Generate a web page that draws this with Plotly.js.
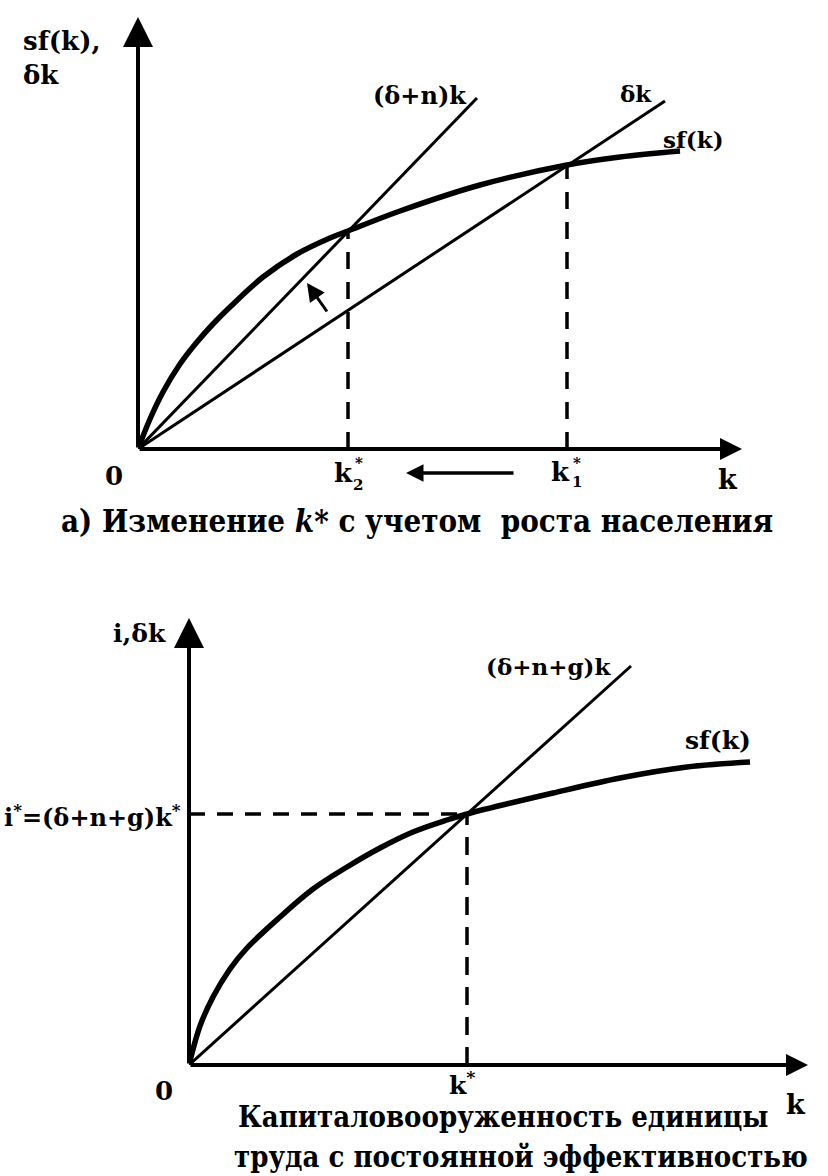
<!DOCTYPE html>
<html>
<head>
<meta charset="utf-8">
<script src="https://cdn.plot.ly/plotly-3.0.1.min.js"></script>
<style>
  html, body { margin: 0; padding: 0; background: #fff; }
  #chart { width: 828px; height: 1176px; }
</style>
</head>
<body>
<div id="chart"></div>
<script>
// ---- Panel (a): Solow model with population growth ----
const kTop  = [0, 0.12, 0.25, 0.42, 0.59, 0.75, 0.92, 1.25, 1.59, 1.92, 2.10, 2.62, 3.42, 4.29, 4.82, 5.42];
const sfTop = [0, 0.30, 0.57, 0.85, 1.07, 1.25, 1.42, 1.72, 1.95, 2.11, 2.18, 2.38, 2.64, 2.84, 2.92, 2.98];
const kDeltaN  = [0, 3.39];   // (δ+n)k
const yDeltaN  = [0, 3.51];
const kDelta   = [0, 5.27];   // δk
const yDelta   = [0, 3.48];
const k2Star = 2.10, sfK2 = 2.18;
const k1Star = 4.29, sfK1 = 2.84;

// ---- Panel (b): steady state with technological progress ----
const kBot  = [0, 0.11, 0.24, 0.41, 0.58, 0.91, 1.24, 1.58, 1.91, 2.24, 2.58, 2.78, 3.64, 4.31, 4.98, 5.61];
const sfBot = [0, 0.39, 0.68, 0.96, 1.17, 1.48, 1.76, 1.98, 2.17, 2.33, 2.45, 2.51, 2.72, 2.87, 2.98, 3.03];
const kDNG = [0, 4.42];       // (δ+n+g)k
const yDNG = [0, 3.99];
const kStar = 2.78, iStar = 2.51;

// text labels
const labelsTop = {
  yTitle: 'sf(k),<br>δk', dn: '(δ+n)k', d: 'δk', sf: 'sf(k)', zero: '0', k: 'k',
  caption: 'а) Изменение <i>k*</i> с учетом  роста населения'
};
const labelsBot = {
  yTitle: 'i,δk', iStar: 'i<sup>*</sup>=(δ+n+g)k<sup>*</sup>', dng: '(δ+n+g)k', sf: 'sf(k)',
  zero: '0', kStar: 'k<sup>*</sup>', k: 'k',
  caption1: 'Капиталовооруженность единицы', caption2: 'труда с постоянной эффективностью'
};

const W = 828, H = 1176;
const px = x => x / W;
const py = y => 1 - y / H;

const SERIF = 'DejaVu Serif, Liberation Serif, serif';
const CAP = 'DejaVu Serif Condensed, DejaVu Serif, serif';
const BLACK = '#000';

function line(x, y, axes, width, dash) {
  return {
    x, y, xaxis: axes[0], yaxis: axes[1], type: 'scatter', mode: 'lines',
    line: { color: BLACK, width, dash: dash || 'solid' }, hoverinfo: 'skip', cliponaxis: false
  };
}
function curve(x, y, axes, width) {
  return {
    x, y, xaxis: axes[0], yaxis: axes[1], type: 'scatter', mode: 'lines',
    line: { color: BLACK, width, shape: 'spline', smoothing: 1 }, hoverinfo: 'skip', cliponaxis: false
  };
}

const A = ['x', 'y'], B = ['x2', 'y2'];
const traces = [
  curve(kTop, sfTop, A, 5.5),
  line(kDeltaN, yDeltaN, A, 3),
  line(kDelta, yDelta, A, 3),
  line([k2Star, k2Star], [0, sfK2], A, 3.5, '17px,13px'),
  line([k1Star, k1Star], [0, sfK1], A, 3.5, '17px,13px'),

  curve(kBot, sfBot, B, 5.5),
  line(kDNG, yDNG, B, 3),
  line([0, kStar], [iStar, iStar], B, 3.5, '16px,12px'),
  line([kStar, kStar], [0, iStar], B, 3.5, '18px,12px')
];

function txt(text, x, y, size, opts) {
  return Object.assign({
    text, x: px(x), y: py(y), xref: 'paper', yref: 'paper', showarrow: false,
    xanchor: 'center', yanchor: 'middle',
    font: { family: SERIF, size, color: BLACK, weight: 'bold' }
  }, opts || {});
}
function axisArrow(xr, yr, x, y, ax, ay, width, size) {
  return {
    text: '', x, y, ax, ay, xref: xr, yref: yr, axref: xr, ayref: yr,
    showarrow: true, arrowhead: 2, arrowwidth: width, arrowsize: size,
    arrowcolor: BLACK, standoff: 0, startstandoff: 0
  };
}
// arrow placed in page pixels: head at (x, y), tail offset by (dx, dy)
function pageArrow(x, y, dx, dy, width, size) {
  return {
    text: '', x: px(x), y: py(y), xref: 'paper', yref: 'paper', ax: dx, ay: dy,
    showarrow: true, arrowhead: 2, arrowwidth: width, arrowsize: size,
    arrowcolor: BLACK, standoff: 0, startstandoff: 0
  };
}

const annotations = [
  // axes of panel (a)
  axisArrow('x', 'y', 0, 4.32, 0, 0, 4, 1.5),
  axisArrow('x', 'y', 6.04, 0, 0, 0, 4, 1.1),
  // shift of the (δ+n)k line
  axisArrow('x', 'y', 1.69, 1.66, 1.90, 1.36, 3, 1.2),
  // movement of the steady state k1* -> k2*
  pageArrow(406, 473, 109, 0, 3.5, 1.0),

  txt(labelsTop.yTitle, 21, 24, 26, { xanchor: 'left', yanchor: 'top', align: 'left' }),
  txt(labelsTop.dn, 371, 96, 24, { xanchor: 'left' }),
  txt(labelsTop.d, 636, 93, 23),
  txt(labelsTop.sf, 693, 139, 23),
  txt(labelsTop.zero, 114, 476, 26),
  txt('k', 343, 473, 26),
  txt('*', 359, 463, 15),
  txt('2', 358, 485, 15),
  txt('k', 560, 472, 26),
  txt('*', 577, 463, 15),
  txt('1', 577, 482, 15),
  txt(labelsTop.k, 728, 479, 27),
  txt(labelsTop.caption, 417, 521, 31, { font: { family: CAP, size: 31, color: BLACK, weight: 'bold' } }),

  // axes of panel (b)
  axisArrow('x2', 'y2', 0, 4.47, 0, 0, 4, 1.5),
  axisArrow('x2', 'y2', 6.19, 0, 0, 0, 4, 1.1),

  txt(labelsBot.yTitle, 168, 633, 25, { xanchor: 'right' }),
  txt(labelsBot.iStar, 183, 816, 24, { xanchor: 'right' }),
  txt(labelsBot.dng, 548, 666, 23),
  txt(labelsBot.sf, 718, 741, 25),
  txt(labelsBot.zero, 164, 1091, 26),
  txt(labelsBot.kStar, 462, 1083, 25),
  txt(labelsBot.k, 796, 1104, 27),
  txt(labelsBot.caption1, 236, 1117, 29, { xanchor: 'left', font: { family: CAP, size: 29, color: BLACK, weight: 'bold' } }),
  txt(labelsBot.caption2, 232, 1157, 29, { xanchor: 'left', font: { family: CAP, size: 29, color: BLACK, weight: 'bold' } })
];

const hidden = { visible: false, fixedrange: true };
const layout = {
  width: W, height: H,
  margin: { l: 0, r: 0, t: 0, b: 0 },
  paper_bgcolor: '#fff', plot_bgcolor: '#fff',
  showlegend: false,
  xaxis:  Object.assign({ domain: [px(138), px(748)], range: [0, 6.1] }, hidden),
  yaxis:  Object.assign({ domain: [py(449), py(14)], range: [0, 4.35] }, hidden),
  xaxis2: Object.assign({ domain: [px(189), px(819)], range: [0, 6.3], anchor: 'y2' }, hidden),
  yaxis2: Object.assign({ domain: [py(1065), py(615)], range: [0, 4.5], anchor: 'x2' }, hidden),
  annotations
};

Plotly.newPlot('chart', traces, layout, { staticPlot: true, displayModeBar: false });
</script>
</body>
</html>
